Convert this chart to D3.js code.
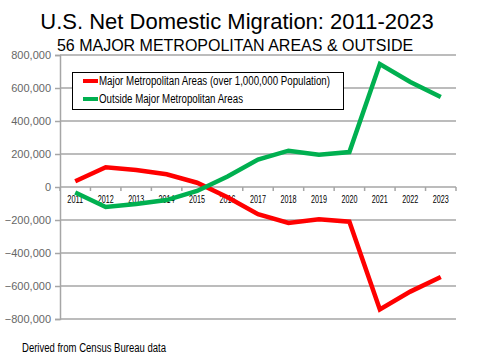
<!DOCTYPE html>
<html><head><meta charset="utf-8">
<script src="https://cdn.jsdelivr.net/npm/d3@7"></script>
<style>body{margin:0;background:#fff}svg{display:block}</style>
</head><body>
<script>
const years = ["2011","2012","2013","2014","2015","2016","2017","2018","2019","2020","2021","2022","2023"];
const majorMetro = [35000,120000,103000,77000,26000,-62000,-165000,-218000,-195000,-210000,-742000,-634000,-545000];
const outsideMetro = [-33000,-121000,-103000,-79000,-24000,64000,166000,220000,196000,212000,745000,636000,545000];
const yTicks = [800000,600000,400000,200000,0,-200000,-400000,-600000,-800000];
const seriesNames = ["Major Metropolitan Areas (over 1,000,000 Population)","Outside Major Metropolitan Areas"];
const seriesColors = ["#ff0000","#00b050"];

const W=481,H=360;
const svg=d3.select("body").append("svg").attr("width",W).attr("height",H);
const x=d3.scaleBand().domain(years).range([60,456]);
const y=d3.scaleLinear().domain([-800000,800000]).range([319,55]);
const sans="Arial,'Liberation Sans',sans-serif";

svg.append("text").attr("x",237).attr("y",29).attr("text-anchor","middle")
  .style("font-family",sans).style("font-size","22px").text("U.S. Net Domestic Migration: 2011-2023");
svg.append("text").attr("x",235).attr("y",51).attr("text-anchor","middle")
  .style("font-family",sans).style("font-size","16px").text("56 MAJOR METROPOLITAN AREAS & OUTSIDE");

svg.append("g").selectAll("line").data(yTicks).join("line")
  .attr("x1",60).attr("x2",456).attr("y1",d=>y(d)).attr("y2",d=>y(d))
  .attr("stroke","#a6a6a6").attr("stroke-width",1.5);
const ya=svg.append("g").attr("transform","translate(60,0)")
  .call(d3.axisLeft(y).tickValues(yTicks).tickSize(5).tickPadding(4).tickFormat(d3.format(",")));
ya.select(".domain").attr("stroke","#a6a6a6").attr("stroke-width",1.5);
ya.selectAll(".tick line").attr("stroke","#a6a6a6").attr("stroke-width",1.5);
ya.selectAll("text").attr("fill","#666").style("font-family",sans).style("font-size","11px");

const xa=svg.append("g").attr("transform",`translate(0,${y(0)})`)
  .call(d3.axisBottom(x).tickSize(0).tickPadding(8));
xa.select(".domain").remove();
xa.selectAll("text").attr("fill","#000").style("font-family",sans).style("font-size","11.5px")
  .attr("textLength",16).attr("lengthAdjust","spacingAndGlyphs");
svg.append("g").selectAll("line").data(years.concat(["end"])).join("line")
  .attr("x1",(d,i)=>x.range()[0]+i*x.bandwidth()).attr("x2",(d,i)=>x.range()[0]+i*x.bandwidth())
  .attr("y1",y(0)).attr("y2",y(0)+4).attr("stroke","#a6a6a6").attr("stroke-width",1.5);

const line=d3.line().x((d,i)=>x(years[i])+x.bandwidth()/2).y(d=>y(d));
[majorMetro,outsideMetro].forEach((s,k)=>{
  svg.append("path").datum(s).attr("d",line).attr("fill","none")
    .attr("stroke",seriesColors[k]).attr("stroke-width",4.5).attr("stroke-linejoin","miter");
});

const lg=svg.append("g");
lg.append("rect").attr("x",72.5).attr("y",72.5).attr("width",271).attr("height",37)
  .attr("fill","#fff").attr("stroke","#000").attr("stroke-width",1);
const legLens=[231,144];
seriesNames.forEach((n,i)=>{
  const yy=81+i*18;
  lg.append("line").attr("x1",83).attr("x2",98).attr("y1",yy).attr("y2",yy)
    .attr("stroke",seriesColors[i]).attr("stroke-width",4);
  lg.append("text").attr("x",99).attr("y",yy+4).style("font-family",sans).style("font-size","12px")
    .attr("textLength",legLens[i]).attr("lengthAdjust","spacingAndGlyphs").text(n);
});

svg.append("text").attr("x",22).attr("y",352).style("font-family",sans).style("font-size","12px")
  .attr("textLength",144).attr("lengthAdjust","spacingAndGlyphs").text("Derived from Census Bureau data");
</script>
</body></html>
